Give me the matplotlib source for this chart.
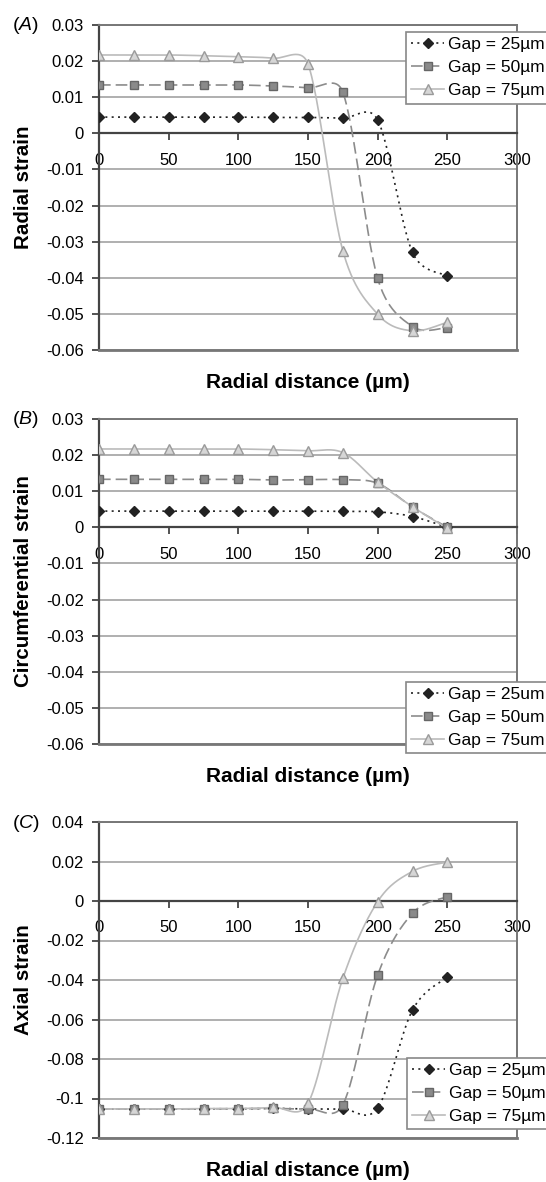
import numpy as np
import matplotlib
matplotlib.use("Agg")
import matplotlib.pyplot as plt
from matplotlib.lines import Line2D
from matplotlib.ticker import FuncFormatter, MultipleLocator

plt.rcParams['font.family'] = ['Liberation Sans', 'DejaVu Sans']
plt.rcParams['mathtext.fontset'] = 'custom'
plt.rcParams['mathtext.it'] = 'Liberation Sans:italic'
plt.rcParams['mathtext.rm'] = 'Liberation Sans'

# radial positions (um)
radius = [0, 25, 50, 75, 100, 125, 150, 175, 200, 225, 250]

# (A) radial strain
radial_25 = [0.0045, 0.0045, 0.0045, 0.0045, 0.0045, 0.0044, 0.0044, 0.0042, 0.0037, -0.033, -0.0395]
radial_50 = [0.0134, 0.0134, 0.0134, 0.0134, 0.0134, 0.0131, 0.0126, 0.0114, -0.0402, -0.0535, -0.0538]
radial_75 = [0.0217, 0.0217, 0.0217, 0.0215, 0.0212, 0.0208, 0.0192, -0.0325, -0.0501, -0.0547, -0.0523]

# (B) circumferential strain
circ_25 = [0.0045, 0.0045, 0.0045, 0.0045, 0.0045, 0.0045, 0.0045, 0.0044, 0.0043, 0.003, 0.0]
circ_50 = [0.0133, 0.0133, 0.0133, 0.0133, 0.0133, 0.0131, 0.0132, 0.0132, 0.0122, 0.0056, 0.0]
circ_75 = [0.0217, 0.0217, 0.0217, 0.0217, 0.0217, 0.0215, 0.0212, 0.0207, 0.0125, 0.0057, -0.0003]

# (C) axial strain
axial_25 = [-0.1053, -0.1053, -0.1053, -0.1052, -0.1052, -0.1050, -0.1053, -0.1053, -0.1048, -0.0552, -0.0385]
axial_50 = [-0.1053, -0.1053, -0.1053, -0.1052, -0.1052, -0.1050, -0.1052, -0.1032, -0.0375, -0.0062, 0.0022]
axial_75 = [-0.1053, -0.1053, -0.1053, -0.1051, -0.1051, -0.1045, -0.1025, -0.0392, -0.0003, 0.015, 0.0197]

W, H = 546, 1182
fig = plt.figure(figsize=(W / 100, H / 100), dpi=100)


def smooth(x, y, sx, sy, n=30, cap=0.55):
    # excel style smoothed line: bezier segments, handles limited by segment length (in pixels)
    pts = np.column_stack([np.asarray(x, float) * sx, np.asarray(y, float) * sy])
    p = np.vstack([pts[0], pts, pts[-1]])
    t = np.linspace(0, 1, n)[:, None]
    out = []
    for i in range(1, len(p) - 2):
        p0, p1, p2, p3 = p[i - 1], p[i], p[i + 1], p[i + 2]
        seg_len = np.hypot(*(p2 - p1))
        h1 = (p2 - p0) / 6
        h2 = (p3 - p1) / 6
        for h in (h1, h2):
            L = np.hypot(*h)
            if L > cap * seg_len and L > 0:
                h *= cap * seg_len / L
        c1 = p1 + h1
        c2 = p2 - h2
        seg = (1 - t)**3 * p1 + 3 * (1 - t)**2 * t * c1 + 3 * (1 - t) * t**2 * c2 + t**3 * p2
        out.append(seg if i == 1 else seg[1:])
    out = np.vstack(out)
    return out[:, 0] / sx, out[:, 1] / sy


styles = [
    dict(color='#222222', ls=(0, (1.2, 2.6)), marker='D', ms=5.3, mfc='#222222', mec='#222222'),
    dict(color='#8c8c8c', ls=(0, (7, 3)), marker='s', ms=6.4, mfc='#8a8a8a', mec='#666666'),
    dict(color='#bbbbbb', ls='-', marker='^', ms=7.4, mfc='#d6d6d6', mec='#9a9a9a'),
]


def panel(top, bottom, series, labels, ylabel, ylim, ystep, tag, leg_anchor, leg_loc):
    left, right = 99, 517
    ax = fig.add_axes([left / W, 1 - bottom / H, (right - left) / W, (bottom - top) / H])
    ax.set_xlim(0, 300)
    ax.set_ylim(*ylim)
    sx = (right - left) / 300
    sy = (bottom - top) / (ylim[1] - ylim[0])
    ax.yaxis.set_major_locator(MultipleLocator(ystep))
    ax.xaxis.set_major_locator(MultipleLocator(50))
    ax.yaxis.set_major_formatter(FuncFormatter(lambda v, p: '0' if abs(v) < 1e-9 else f'{v:g}'))
    ax.xaxis.set_major_formatter(FuncFormatter(lambda v, p: f'{v:g}'))
    ax.grid(axis='y', color='#9a9a9a', lw=1.1)
    ax.set_axisbelow(True)

    for s in ['top', 'right']:
        ax.spines[s].set_color('#777777')
        ax.spines[s].set_linewidth(1.4)
    ax.spines['left'].set_color('#444444')
    ax.spines['left'].set_linewidth(1.6)
    ax.spines['bottom'].set_position(('data', 0))
    ax.spines['bottom'].set_color('#444444')
    ax.spines['bottom'].set_linewidth(1.6)
    ax.axhline(ylim[0], color='#777777', lw=2.0, clip_on=False, zorder=3)

    ax.tick_params(axis='y', direction='out', length=5, width=1.3, color='#444444',
                   labelsize=12, pad=6)
    ax.tick_params(axis='x', direction='out', length=5, width=1.3, color='#444444',
                   labelsize=12, pad=9)

    handles = []
    for (y, st, lab) in zip(series, styles, labels):
        cx, cy = smooth(radius, y, sx, sy)
        ax.plot(cx, cy, color=st['color'], ls=st['ls'], lw=1.2, zorder=4)
        ax.plot(radius, y, ls='none', marker=st['marker'], ms=st['ms'],
                mfc=st['mfc'], mec=st['mec'], mew=1.0, zorder=5)
        handles.append(Line2D([], [], color=st['color'], ls=st['ls'], lw=1.2,
                              marker=st['marker'], ms=st['ms'], mfc=st['mfc'],
                              mec=st['mec'], mew=1.0, label=lab))

    ax.set_ylabel(ylabel, fontsize=14.8, fontweight='bold')
    ax.yaxis.set_label_coords(-0.158, 0.5)
    ax.set_xlabel('Radial distance (µm)', fontsize=15, fontweight='bold')
    ax.xaxis.set_label_coords(0.5, -23 / (bottom - top))

    fig.text(12 / W, 1 - (top + 1) / H, f'($\\it{{{tag}}}$)', fontsize=14,
             ha='left', va='center')

    leg = fig.legend(handles=handles, loc=leg_loc,
                     bbox_to_anchor=(leg_anchor[0] / W, 1 - leg_anchor[1] / H),
                     fontsize=12.5, frameon=True, fancybox=False, framealpha=1,
                     edgecolor='#888888', borderpad=0.3, labelspacing=0.45,
                     handlelength=1.9, handletextpad=0.2, borderaxespad=0, numpoints=1)
    leg.get_frame().set_linewidth(1.2)
    return ax


panel(25, 350, [radial_25, radial_50, radial_75],
      ['Gap = 25µm', 'Gap = 50µm', 'Gap = 75µm'],
      'Radial strain', (-0.06, 0.03), 0.01, 'A', (406, 32), 'upper left')

panel(419, 744, [circ_25, circ_50, circ_75],
      ['Gap = 25um', 'Gap = 50um', 'Gap = 75um'],
      'Circumferential strain', (-0.06, 0.03), 0.01, 'B', (406, 753), 'lower left')

panel(822, 1138, [axial_25, axial_50, axial_75],
      ['Gap = 25µm', 'Gap = 50µm', 'Gap = 75µm'],
      'Axial strain', (-0.12, 0.04), 0.02, 'C', (407, 1129), 'lower left')

fig.savefig('out.png', dpi=100)
